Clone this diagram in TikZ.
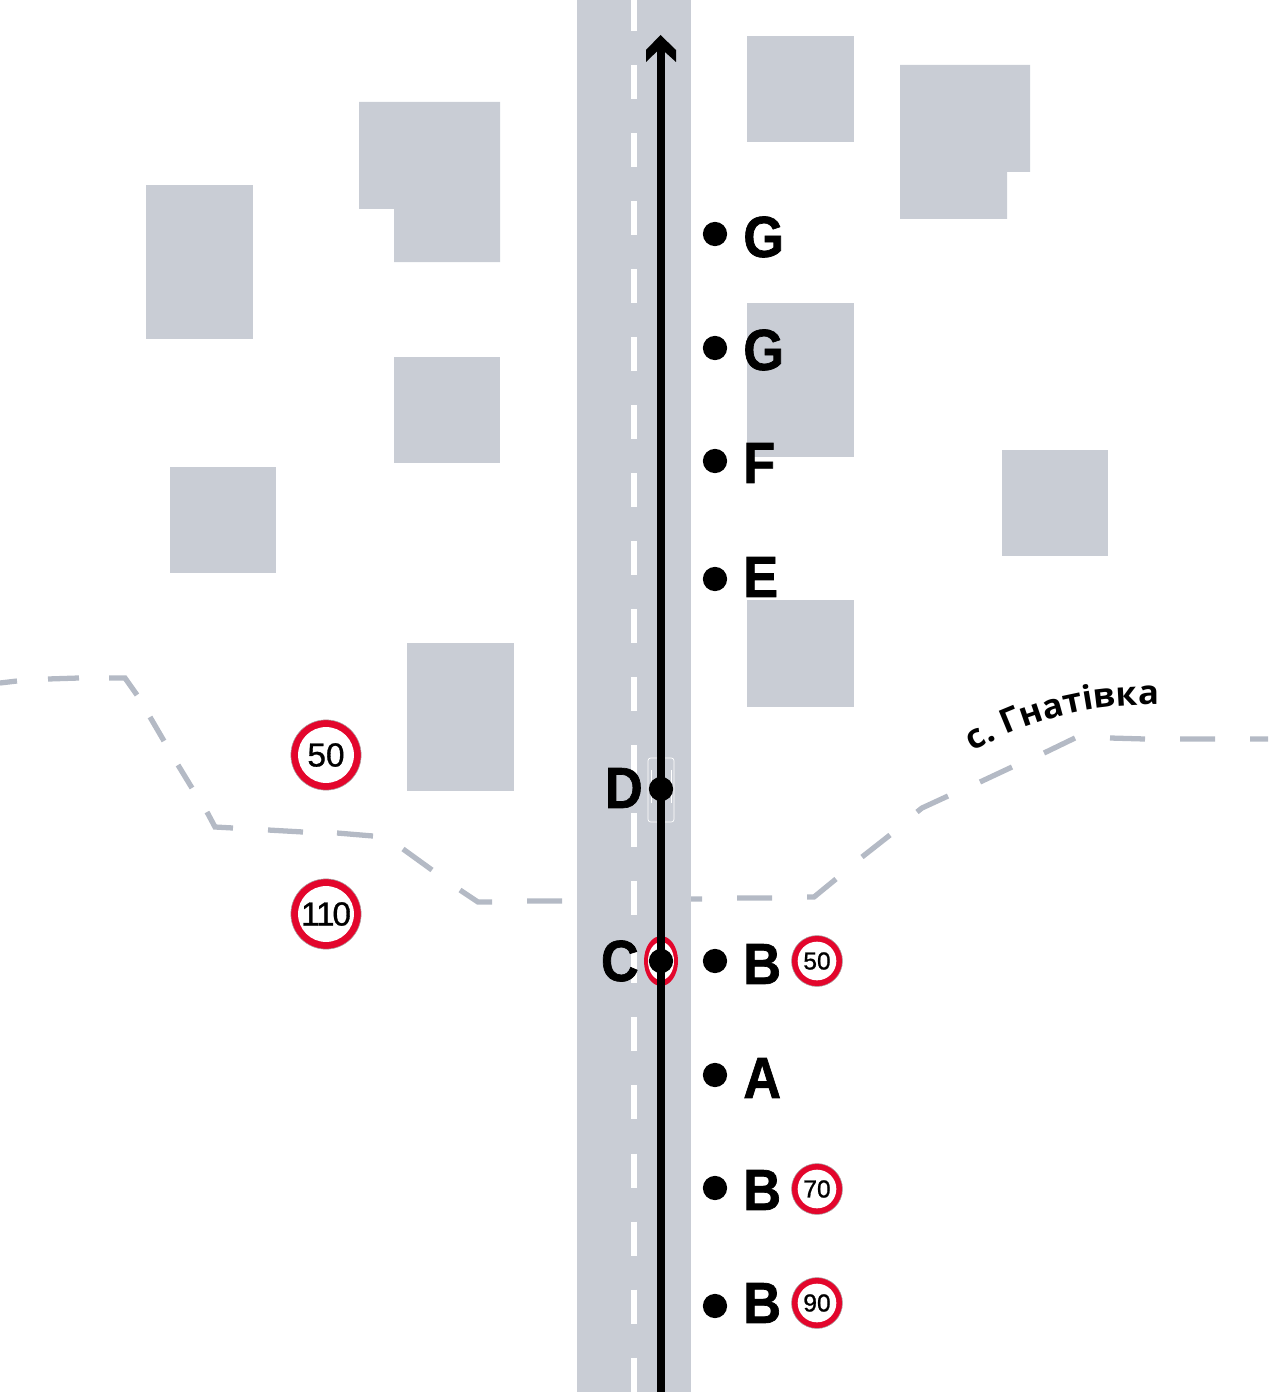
\documentclass[tikz,border=0pt]{standalone}
\usepackage{fontspec}
\setmainfont{Liberation Sans}
\newfontfamily\villagefont[FakeStretch=1.04]{Open Sans}
\newfontfamily\pointfont[BoldFeatures={FakeBold=1.2,FakeStretch=.9}]{Liberation Sans}
\newfontfamily\signfont[FakeBold=0.9]{Liberation Sans}
\usetikzlibrary{decorations.text}
\definecolor{roadgray}{RGB}{201,205,213}
\definecolor{bordergray}{RGB}{180,186,197}
\definecolor{signred}{RGB}{227,6,44}
\tikzset{
  house/.style={fill=roadgray},
  bline/.style={bordergray, line width=3pt},
  cline/.style={white, line width=3.4pt, dash pattern=on 19.36pt off 19.36pt},
  pdot/.style={circle, fill=black, inner sep=0pt, minimum size=13.8pt},
  plab/.style={font=\fontsize{33}{33}\pointfont\bfseries, inner sep=0pt, anchor=west},
  bigsign/.style={circle, draw=gray!70, line width=0.3pt, fill=signred, inner sep=0pt, minimum size=40pt,
    path picture={\fill[white] (path picture bounding box.center) circle (15.9pt);},
    font=\fontsize{19}{19}\signfont},
  smallsign/.style={circle, draw=gray!70, line width=0.3pt, fill=signred, inner sep=0pt, minimum size=29pt,
    path picture={\fill[white] (path picture bounding box.center) circle (11pt);},
    font=\fontsize{14}{14}\signfont},
}
\begin{document}
\begin{tikzpicture}[x=0.02cm, y=-0.02cm]
  \useasboundingbox (0,0) rectangle (1268,1392);
  % village border
  \draw[bline] (0,683) -- (17,681) (48,679) -- (79,678) (109,678) -- (125,678) -- (137,695)
    (150,717) -- (164,741) (178,765) -- (192,788) (207,812) -- (215,827) -- (233,828)
    (268,830) -- (303,832) (337,833) -- (373,836) (403,849) -- (432,870)
    (460,890) -- (478,902) -- (492,902) (527,901) -- (562,901);
  \draw[bline] (691,899) -- (702,899) (737,898) -- (772,898) (807,897) -- (814,897) -- (836,879)
    (862,857) -- (890,835) (917,812) -- (922,808) -- (948,796) (980,782) -- (1012,767)
    (1044,753) -- (1075,738) (1110,738) -- (1145,739) (1180,739) -- (1215,739) (1250,739) -- (1268,739);
  % houses
  \fill[house] (747,36) rectangle (854,142);
  \fill[house] (900,65) -- (1030,65) -- (1030,172) -- (1007,172) -- (1007,219) -- (900,219) -- cycle;
  \fill[house] (359,102) -- (500,102) -- (500,262) -- (394,262) -- (394,209) -- (359,209) -- cycle;
  \fill[house] (146,185) rectangle (253,339);
  \fill[house] (394,357) rectangle (500,463);
  \fill[house] (170,467) rectangle (276,573);
  \fill[house] (747,303) rectangle (854,457);
  \fill[house] (1002,450) rectangle (1108,556);
  \fill[house] (747,600) rectangle (854,707);
  \fill[house] (407,643) rectangle (514,791);
  % road
  \fill[roadgray] (577,0) rectangle (690.5,1392);
  \draw[cline] (634,-3) -- (634,1392);
  % car
  \draw[white, line width=0.4pt, rounded corners=1.5pt] (648,758) rectangle (674,822);
  \draw[white, line width=0.4pt] (651,770) -- (651,803) (671,770) -- (671,803);
  % sign seen from the side
  \fill[signred] (661,961) ellipse (17 and 25);
  \fill[white] (661,961) ellipse (13 and 19);
  % route
  \coordinate (routestart) at (661,1392);
  \coordinate (routeend) at (661,48);
  \draw[black, line width=4.6pt] (routestart) -- (routeend);
  \fill[black] (660.5,35) -- (676,50) -- (676,62) -- (660.5,48) -- (646,62) -- (646,50) -- cycle;
  % points
  \foreach \name/\ypos/\ylab/\txt in {g2/234/237/G, g1/348/350/G, f/461/463/F, e/579/577/E,
      b3/961/964/B, a/1075/1078/A, b2/1188/1190/B, b1/1306/1303/B}{
    \node[pdot] (dot\name) at (715,\ypos) {};
    \node[plab] (lab\name) at (743,\ylab) {\txt};
  }
  \node[pdot] (dotd) at (661,789) {};
  \node[pdot] (dotc) at (661,961) {};
  \node[plab, anchor=east] (labd) at (643,788) {D};
  \node[plab, anchor=east] (labc) at (639,961) {C};
  % signs
  \node[bigsign] (sign50) at (326,755) {50};
  \node[bigsign] (sign110) at (326,914) {1\kern-2pt 1\kern-1.2pt 0};
  \node[smallsign] (signb3) at (817,961) {50};
  \node[smallsign] (signb2) at (817,1189) {70};
  \node[smallsign] (signb1) at (817,1303) {90};
  % village name
  \path[decorate, decoration={text along path, text align=center,
    text={|\villagefont\fontsize{19}{19}\selectfont\bfseries|с. Гнатівка}}]
    (972,752) .. controls (1020,725) and (1080,703) .. (1160,705);
\end{tikzpicture}
\end{document}
